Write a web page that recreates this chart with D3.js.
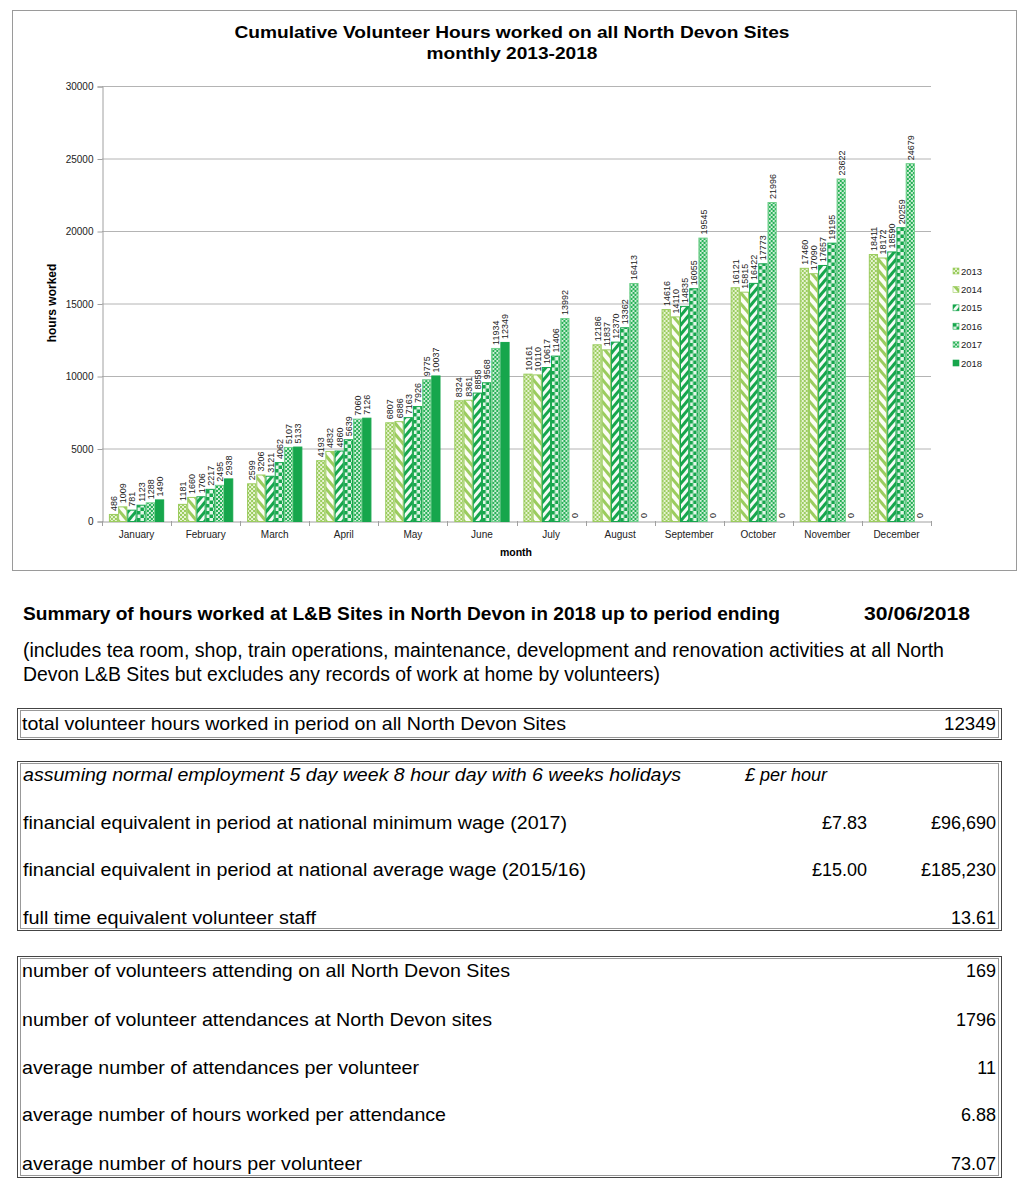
<!DOCTYPE html>
<html>
<head>
<meta charset="utf-8">
<script src="https://cdn.jsdelivr.net/npm/d3@7"></script>
<style>
  body { margin: 0; background: #fff; }
  text { font-family: "Liberation Sans", Arial, sans-serif; }
</style>
</head>
<body>
<div id="chart"></div>
<script>
// chart data
const months = ['January', 'February', 'March', 'April', 'May', 'June', 'July', 'August', 'September', 'October', 'November', 'December'];
const years = ['2013', '2014', '2015', '2016', '2017', '2018'];
const hours2013 = [486, 1181, 2599, 4193, 6807, 8324, 10161, 12186, 14616, 16121, 17460, 18411];
const hours2014 = [1009, 1660, 3206, 4832, 6886, 8361, 10110, 11837, 14110, 15815, 17090, 18172];
const hours2015 = [781, 1706, 3121, 4860, 7163, 8858, 10617, 12370, 14835, 16422, 17657, 18590];
const hours2016 = [1123, 2217, 4062, 5639, 7926, 9568, 11406, 13362, 16055, 17773, 19195, 20259];
const hours2017 = [1288, 2495, 5107, 7060, 9775, 11934, 13992, 16413, 19545, 21996, 23622, 24679];
const hours2018 = [1490, 2938, 5133, 7126, 10037, 12349, 0, 0, 0, 0, 0, 0];
const yTicks = [0, 5000, 10000, 15000, 20000, 25000, 30000];

// summary tables
const summaryTitle = 'Summary of hours worked at L&B Sites in North Devon in 2018 up to period ending';
const summaryDate = '30/06/2018';
const summaryNote = ['(includes tea room, shop, train operations, maintenance, development and renovation activities at all North',
  'Devon L&B Sites but excludes any records of work at home by volunteers)'];
const table1Labels = ['total volunteer hours worked in period on all North Devon Sites'];
const table1Values = ['12349'];
const table2Labels = ['assuming normal employment 5 day week 8 hour day with 6 weeks holidays',
  'financial equivalent in period at national minimum wage (2017)',
  'financial equivalent in period at national average wage (2015/16)',
  'full time equivalent volunteer staff'];
const table2Rates = ['£ per hour', '£7.83', '£15.00', ''];
const table2Values = ['', '£96,690', '£185,230', '13.61'];
const table3Labels = ['number of volunteers attending on all North Devon Sites',
  'number of volunteer attendances at North Devon sites',
  'average number of attendances per volunteer',
  'average number of hours worked per attendance',
  'average number of hours per volunteer'];
const table3Values = ['169', '1796', '11', '6.88', '73.07'];

const series = [hours2013, hours2014, hours2015, hours2016, hours2017, hours2018];
const light = '#9bcc5e';
const dark = '#16a64c';

const svg = d3.select('#chart').append('svg')
  .attr('width', 1024)
  .attr('height', 1201);

// fill patterns, one per year
const defs = svg.append('defs');

let p = defs.append('pattern').attr('id', 'p2013').attr('patternUnits', 'userSpaceOnUse').attr('width', 4).attr('height', 4);
p.append('rect').attr('width', 4).attr('height', 4).attr('fill', '#e6f3d2');
p.append('rect').attr('width', 2).attr('height', 2).attr('fill', light);
p.append('rect').attr('x', 2).attr('y', 2).attr('width', 2).attr('height', 2).attr('fill', light);

p = defs.append('pattern').attr('id', 'p2014').attr('patternUnits', 'userSpaceOnUse').attr('width', 7).attr('height', 7)
  .attr('patternTransform', 'rotate(-40)');
p.append('rect').attr('width', 7).attr('height', 7).attr('fill', '#fbfdf5');
p.append('rect').attr('width', 3).attr('height', 7).attr('fill', light);

p = defs.append('pattern').attr('id', 'p2015').attr('patternUnits', 'userSpaceOnUse').attr('width', 6).attr('height', 6)
  .attr('patternTransform', 'rotate(40)');
p.append('rect').attr('width', 6).attr('height', 6).attr('fill', '#f4fbf6');
p.append('rect').attr('width', 3).attr('height', 6).attr('fill', dark);

p = defs.append('pattern').attr('id', 'p2016').attr('patternUnits', 'userSpaceOnUse').attr('width', 7).attr('height', 7);
p.append('rect').attr('width', 7).attr('height', 7).attr('fill', '#e3f6e8');
p.append('rect').attr('width', 3.5).attr('height', 3.5).attr('fill', dark);
p.append('rect').attr('x', 3.5).attr('y', 3.5).attr('width', 3.5).attr('height', 3.5).attr('fill', dark);

p = defs.append('pattern').attr('id', 'p2017').attr('patternUnits', 'userSpaceOnUse').attr('width', 4).attr('height', 4);
p.append('rect').attr('width', 4).attr('height', 4).attr('fill', '#e4f6e8');
p.append('circle').attr('cx', 1).attr('cy', 1).attr('r', 1.3).attr('fill', '#27b157');
p.append('circle').attr('cx', 3).attr('cy', 3).attr('r', 1.3).attr('fill', '#27b157');

const fills = ['url(#p2013)', 'url(#p2014)', 'url(#p2015)', 'url(#p2016)', 'url(#p2017)', dark];
const strokes = [light, light, dark, dark, '#6fcf8a', dark];

// chart frame
svg.append('rect')
  .attr('x', 12.5).attr('y', 10.5).attr('width', 1004).attr('height', 560)
  .attr('fill', '#fff').attr('stroke', '#9a9a9a');

svg.append('text')
  .attr('x', 512).attr('y', 38)
  .attr('text-anchor', 'middle').attr('font-weight', 'bold').attr('font-size', 17)
  .attr('textLength', 555).attr('lengthAdjust', 'spacingAndGlyphs')
  .text('Cumulative Volunteer Hours worked on all North Devon Sites');
svg.append('text')
  .attr('x', 512).attr('y', 59)
  .attr('text-anchor', 'middle').attr('font-weight', 'bold').attr('font-size', 17)
  .attr('textLength', 171).attr('lengthAdjust', 'spacingAndGlyphs')
  .text('monthly 2013-2018');

const x = d3.scaleBand().domain(months).range([102, 931]).paddingInner(0.2).paddingOuter(0.1);
const xYear = d3.scaleBand().domain(years).range([0, x.bandwidth()]);
const y = d3.scaleLinear().domain([0, 30000]).range([521, 86]);

// gridlines
svg.append('g')
  .selectAll('line')
  .data(yTicks.slice(1))
  .join('line')
  .attr('x1', 102).attr('x2', 931)
  .attr('y1', d => y(d) + 0.5).attr('y2', d => y(d) + 0.5)
  .attr('stroke', '#b4b4b4');

const yAxis = svg.append('g')
  .attr('transform', 'translate(102.5,0.5)')
  .call(d3.axisLeft(y).tickValues(yTicks).tickSize(5).tickPadding(4).tickFormat(d3.format('d')));
yAxis.select('.domain').attr('stroke', '#a0a0a0');
yAxis.selectAll('.tick line').attr('stroke', '#a0a0a0');
yAxis.selectAll('.tick text').attr('font-size', 10).attr('fill', '#222').attr('font-family', '"Liberation Sans", Arial, sans-serif');

const xAxis = svg.append('g')
  .attr('transform', 'translate(0,521.5)')
  .call(d3.axisBottom(x).tickSize(0).tickPadding(9));
xAxis.select('.domain').attr('stroke', '#a0a0a0');
xAxis.selectAll('.tick text').attr('font-size', 10).attr('fill', '#222').attr('font-family', '"Liberation Sans", Arial, sans-serif');
// category separators
svg.append('g')
  .selectAll('line')
  .data(months.concat(['end']))
  .join('line')
  .attr('x1', (d, i) => Math.round(102 + i * x.step()) + 0.5)
  .attr('x2', (d, i) => Math.round(102 + i * x.step()) + 0.5)
  .attr('y1', 521).attr('y2', 526)
  .attr('stroke', '#a0a0a0');

svg.append('text')
  .attr('transform', 'translate(56,303) rotate(-90)')
  .attr('text-anchor', 'middle').attr('font-weight', 'bold').attr('font-size', 12)
  .text('hours worked');
svg.append('text')
  .attr('x', 516).attr('y', 556)
  .attr('text-anchor', 'middle').attr('font-weight', 'bold').attr('font-size', 10.5)
  .text('month');

// bars
const groups = svg.append('g')
  .selectAll('g')
  .data(months)
  .join('g')
  .attr('transform', d => `translate(${x(d)},0)`);

groups.selectAll('rect')
  .data((m, mi) => years.map((yr, yi) => ({ yr, yi, v: series[yi][mi] })))
  .join('rect')
  .attr('x', d => xYear(d.yr) + 0.5)
  .attr('y', d => y(d.v) + 0.5)
  .attr('width', xYear.bandwidth() - 1)
  .attr('height', d => Math.max(0, y(0) - y(d.v)))
  .attr('fill', d => fills[d.yi])
  .attr('stroke', d => d.v > 0 ? strokes[d.yi] : 'none')
  .attr('stroke-width', 1);

groups.selectAll('text')
  .data((m, mi) => years.map((yr, yi) => ({ yr, yi, v: series[yi][mi] })))
  .join('text')
  .attr('transform', d => `translate(${xYear(d.yr) + xYear.bandwidth() / 2 + 3.5},${y(d.v) - 3}) rotate(-90)`)
  .attr('font-size', 9).attr('fill', '#222')
  .text(d => d.v);

// legend
const legend = svg.append('g')
  .selectAll('g')
  .data(years)
  .join('g')
  .attr('transform', (d, i) => `translate(953,${268 + i * 18.4})`);
legend.append('rect')
  .attr('width', 6).attr('height', 6)
  .attr('fill', (d, i) => fills[i])
  .attr('stroke', (d, i) => strokes[i]).attr('stroke-width', 0.6);
legend.append('text')
  .attr('x', 8).attr('y', 6.5)
  .attr('font-size', 9.5).attr('fill', '#222')
  .text(d => d);

// summary text below the chart
function fitText(sel, width) {
  sel.attr('textLength', width).attr('lengthAdjust', 'spacingAndGlyphs');
}

svg.append('text')
  .attr('x', 23).attr('y', 620)
  .attr('font-weight', 'bold').attr('font-size', 18.5)
  .text(summaryTitle)
  .call(fitText, 757);
svg.append('text')
  .attr('x', 970).attr('y', 620)
  .attr('text-anchor', 'end').attr('font-weight', 'bold').attr('font-size', 18.5)
  .call(fitText, 106)
  .text(summaryDate);

svg.append('g')
  .selectAll('text')
  .data(summaryNote)
  .join('text')
  .attr('x', 23).attr('y', (d, i) => 657 + i * 24)
  .attr('font-size', 19.5)
  .text(d => d)
  .each(function (d, i) { d3.select(this).call(fitText, i === 0 ? 921 : 637); });

function drawBox(top, height) {
  svg.append('rect')
    .attr('x', 17.5).attr('y', top + 0.5).attr('width', 984).attr('height', height)
    .attr('fill', 'none').attr('stroke', '#444');
  svg.append('rect')
    .attr('x', 20.5).attr('y', top + 2.5).attr('width', 978).attr('height', height - 4)
    .attr('fill', 'none').attr('stroke', '#999');
}

const labelWidths1 = [544];
const labelWidths2 = [658, 544, 563, 293];
const labelWidths3 = [488, 470, 397, 424, 340];

drawBox(708, 31);
svg.append('g')
  .selectAll('text')
  .data(table1Labels)
  .join('text')
  .attr('x', 22).attr('y', 730)
  .attr('font-size', 19)
  .text(d => d)
  .each(function (d, i) { d3.select(this).call(fitText, labelWidths1[i]); });
svg.append('g')
  .selectAll('text')
  .data(table1Values)
  .join('text')
  .attr('x', 996).attr('y', 730)
  .attr('text-anchor', 'end').attr('font-size', 19)
  .call(fitText, 52)
  .text(d => d);

drawBox(761, 169);
const rows2 = [781, 829, 876, 924];
svg.append('g')
  .selectAll('text')
  .data(table2Labels)
  .join('text')
  .attr('x', 23).attr('y', (d, i) => rows2[i])
  .attr('font-size', 18)
  .attr('font-style', (d, i) => i === 0 ? 'italic' : 'normal')
  .text(d => d)
  .each(function (d, i) { d3.select(this).call(fitText, labelWidths2[i]); });
svg.append('g')
  .selectAll('text')
  .data(table2Rates)
  .join('text')
  .attr('x', (d, i) => i === 0 ? 745 : 867).attr('y', (d, i) => rows2[i])
  .attr('text-anchor', (d, i) => i === 0 ? 'start' : 'end')
  .attr('font-style', (d, i) => i === 0 ? 'italic' : 'normal')
  .attr('font-size', 18)
  .text(d => d);
svg.append('g')
  .selectAll('text')
  .data(table2Values)
  .join('text')
  .attr('x', 996).attr('y', (d, i) => rows2[i])
  .attr('text-anchor', 'end').attr('font-size', 18)
  .text(d => d);

drawBox(956, 221);
const rows3 = [977, 1026, 1074, 1121, 1170];
svg.append('g')
  .selectAll('text')
  .data(table3Labels)
  .join('text')
  .attr('x', 22).attr('y', (d, i) => rows3[i])
  .attr('font-size', 19)
  .text(d => d)
  .each(function (d, i) { d3.select(this).call(fitText, labelWidths3[i]); });
svg.append('g')
  .selectAll('text')
  .data(table3Values)
  .join('text')
  .attr('x', 996).attr('y', (d, i) => rows3[i])
  .attr('text-anchor', 'end').attr('font-size', 18)
  .text(d => d);
</script>
</body>
</html>
